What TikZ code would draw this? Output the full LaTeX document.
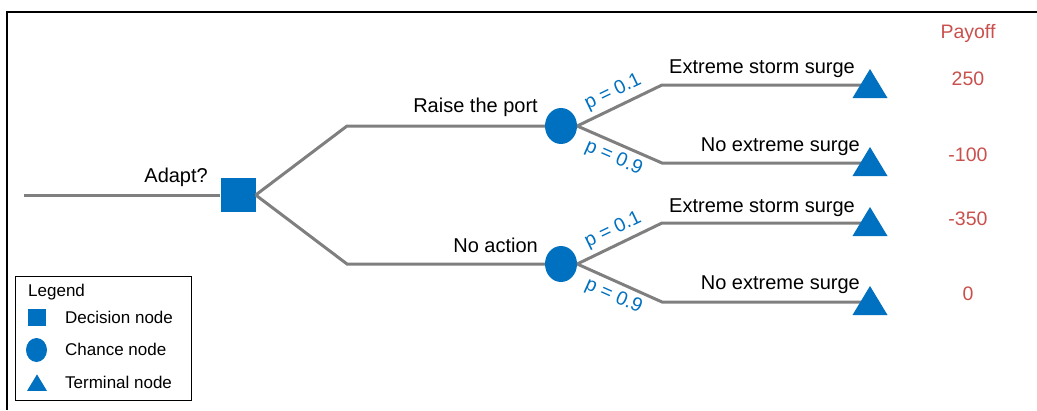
\documentclass[tikz,border=0pt]{standalone}
\usepackage{fontspec}
\setmainfont{Liberation Sans}
\usetikzlibrary{shapes.geometric}
\definecolor{nodeblue}{HTML}{0070C0}
\definecolor{payred}{HTML}{C9504D}
\definecolor{branchgray}{HTML}{7F7F7F}

\begin{document}
\begin{tikzpicture}[x=1pt,y=-1pt,
  branch/.style={draw=branchgray, line width=3pt},
  decision/.style={rectangle, fill=nodeblue, minimum width=35pt, minimum height=34pt, inner sep=0pt},
  chance/.style={ellipse, fill=nodeblue, minimum width=32pt, minimum height=36pt, inner sep=0pt},
  lbl/.style={font=\fontsize{20}{24}\selectfont, text=black, inner sep=0pt},
  prob/.style={font=\fontsize{19.5}{22}\selectfont, text=nodeblue, sloped, inner sep=4.5pt},
  pay/.style={font=\fontsize{19.5}{23}\selectfont, text=payred, inner sep=0pt, anchor=base},
  legtext/.style={font=\fontsize{17}{20}\selectfont, text=black, inner sep=0pt, anchor=base west},
  term/.pic={\fill[nodeblue] (-17.5,13) -- (17.5,13) -- (0,-16) -- cycle;}
]
\useasboundingbox (0,0) rectangle (1037,410);

% outer frame (top and left edges)
\draw[line width=2pt] (1037,12) -- (7,12) -- (7,410);

% tree points
\coordinate (s) at (24,195);
\coordinate (eu) at (347,126);
\coordinate (el) at (347,264);
\coordinate (bu1) at (662,85);
\coordinate (bu2) at (662,163);
\coordinate (bl1) at (662,223);
\coordinate (bl2) at (662,302);
\coordinate (t1) at (870,85);
\coordinate (t2) at (870,163);
\coordinate (t3) at (870,223);
\coordinate (t4) at (870,302);

\node[decision] (d) at (238,195) {};
\node[chance] (cu) at (561,126) {};
\node[chance] (cl) at (561,264) {};

% branches
\draw[branch] (s) -- (d.west);
\draw[branch] (d.east) -- (eu) -- (cu.west);
\draw[branch] (d.east) -- (el) -- (cl.west);
\draw[branch] (cu.east) -- node[prob, above] (pu1) {p = 0.1} (bu1) -- (t1);
\draw[branch] (cu.east) -- node[prob, below] (pu2) {p = 0.9} (bu2) -- (t2);
\draw[branch] (cl.east) -- node[prob, above] (pl1) {p = 0.1} (bl1) -- (t3);
\draw[branch] (cl.east) -- node[prob, below] (pl2) {p = 0.9} (bl2) -- (t4);

% terminal nodes
\pic at (t1) {term};
\pic at (t2) {term};
\pic at (t3) {term};
\pic at (t4) {term};

% branch labels
\node[lbl, anchor=base east] (ladapt) at (208,182.3) {Adapt?};
\node[lbl, anchor=base east] (lraise) at (538,112.7) {Raise the port};
\node[lbl, anchor=base east] (lnone) at (538,252.3) {No action};
\node[lbl, anchor=base east] (lo1) at (855,73.3) {Extreme storm surge};
\node[lbl, anchor=base east] (lo2) at (860,151.7) {No extreme surge};
\node[lbl, anchor=base east] (lo3) at (855,212) {Extreme storm surge};
\node[lbl, anchor=base east] (lo4) at (860,289.7) {No extreme surge};

% payoffs
\node[pay] (phead) at (968,38.3) {Payoff};
\node[pay] (p1) at (968,85) {250};
\node[pay] (p2) at (968,161.7) {-100};
\node[pay] (p3) at (968,225) {-350};
\node[pay] (p4) at (968,300) {0};

% legend
\node[draw, line width=1.3pt, anchor=north west, minimum width=176pt, minimum height=124pt, inner sep=0pt] (legend) at (15,276) {};
\node[legtext] (legtitle) at (28,296) {Legend};
\node[rectangle, fill=nodeblue, minimum width=18pt, minimum height=17pt, inner sep=0pt] (legd) at (37,317.5) {};
\node[ellipse, fill=nodeblue, minimum width=21pt, minimum height=24pt, inner sep=0pt] (legc) at (36.5,350) {};
\coordinate (legt) at (37,383.5);
\pic[scale=0.57] at (legt) {term};
\node[legtext] (legdt) at (65,323.3) {Decision node};
\node[legtext] (legct) at (65,355) {Chance node};
\node[legtext] (legtt) at (65,388.3) {Terminal node};
\end{tikzpicture}
\end{document}
